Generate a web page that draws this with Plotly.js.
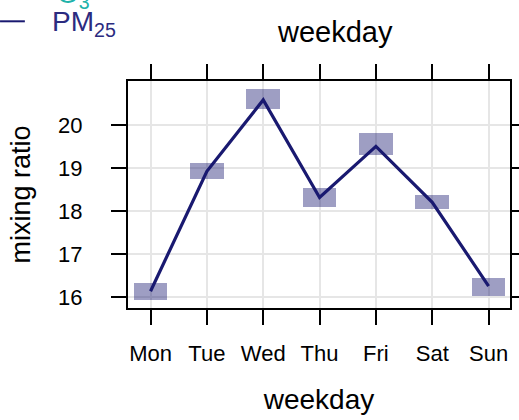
<!DOCTYPE html>
<html>
<head>
<meta charset="utf-8">
<script src="https://cdn.plot.ly/plotly-3.0.1.min.js"></script>
<style>
  body { margin: 0; background: #fff; }
  #plot { width: 519px; height: 420px; }
</style>
</head>
<body>
<div id="plot"></div>
<script>
// weekday means of PM25 with their confidence limits
let days = ['Mon', 'Tue', 'Wed', 'Thu', 'Fri', 'Sat', 'Sun'];
let pmMean = [16.13, 18.92, 20.58, 18.31, 19.50, 18.20, 16.25];
let pmLower = [15.92, 18.75, 20.37, 18.09, 19.31, 18.05, 16.03];
let pmUpper = [16.31, 19.12, 20.84, 18.53, 19.82, 18.37, 16.43];
let yTicks = [16, 17, 18, 19, 20];

let navy = 'rgb(25,25,112)';

// shaded CI boxes
let trace1 = {
    x: days,
    y: pmUpper.map((u, i) => u - pmLower[i]),
    base: pmLower,
    type: 'bar',
    width: 0.6,
    marker: {color: 'rgba(25,25,112,0.42)', line: {width: 0}},
    hoverinfo: 'skip',
    showlegend: false,
};

// mean line
let trace2 = {
    x: days,
    y: pmMean,
    type: 'scatter',
    mode: 'lines',
    line: {color: navy, width: 3.2},
    name: 'PM25',
    showlegend: false,
};

let data = [trace1, trace2];

let font = {family: 'Liberation Sans, Arial, sans-serif', color: '#000'};

let layout = {
    width: 519,
    height: 420,
    margin: {l: 128, r: 9, t: 81, b: 112},
    paper_bgcolor: '#fff',
    plot_bgcolor: '#fff',
    font: font,
    xaxis: {
        type: 'category',
        range: [-0.4, 6.38],
        showgrid: true,
        gridcolor: '#e6e6e6',
        gridwidth: 2,
        showline: true,
        linecolor: '#000',
        linewidth: 2,
        mirror: 'allticks',
        ticks: 'outside',
        ticklen: 15,
        tickwidth: 2,
        tickcolor: '#000',
        ticklabelstandoff: 10,
        tickfont: {size: 22},
        title: {text: 'weekday', font: {size: 28}, standoff: 24},
        automargin: false,
        zeroline: false,
    },
    yaxis: {
        range: [15.74, 21.02],
        tickvals: yTicks,
        showgrid: true,
        gridcolor: '#e6e6e6',
        gridwidth: 2,
        showline: true,
        linecolor: '#000',
        linewidth: 2,
        mirror: 'allticks',
        ticks: 'outside',
        ticklen: 15,
        tickwidth: 2,
        tickcolor: '#000',
        ticklabelstandoff: 24,
        tickfont: {size: 22},
        title: {text: 'mixing ratio', font: {size: 27}, standoff: 20},
        automargin: false,
        zeroline: false,
    },
    shapes: [
        {type: 'line', xref: 'paper', yref: 'paper', x0: -0.335, x1: -0.27, y0: 1.263, y1: 1.263,
         line: {color: navy, width: 2}},
    ],
    annotations: [
        {text: 'weekday', xref: 'paper', yref: 'paper', x: 0.542, y: 1.295,
         showarrow: false, font: {size: 29}},
        {text: 'PM<sub>25</sub>', xref: 'paper', yref: 'paper', x: -0.204, y: 1.339,
         xanchor: 'left', showarrow: false, font: {size: 28, color: '#2b2b80'}},
        {text: 'O<sub>3</sub>', xref: 'paper', yref: 'paper', x: -0.191, y: 1.462,
         xanchor: 'left', showarrow: false, font: {size: 28, color: '#20b2aa'}},
    ],
    bargap: 0,
};

Plotly.newPlot('plot', data, layout, {displayModeBar: false, staticPlot: true});
</script>
</body>
</html>
